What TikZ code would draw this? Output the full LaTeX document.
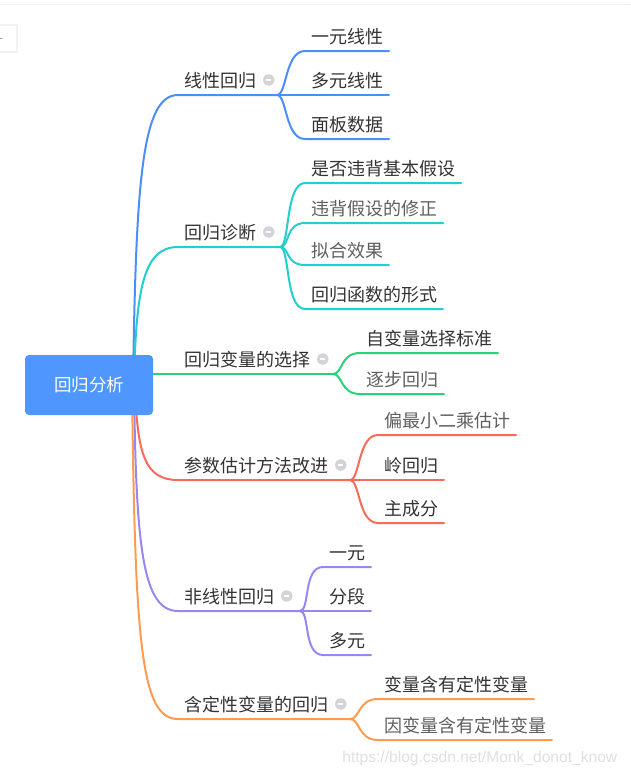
\documentclass[tikz,border=0pt]{standalone}
\usepackage{fontspec}
\newfontfamily\cjk{Noto Sans CJK SC}
\newfontfamily\wmfont{Liberation Sans}
\usetikzlibrary{calc}
\definecolor{rootc}{HTML}{4F97FF}
\definecolor{lnblue}{HTML}{4B8EF7}
\definecolor{lncyan}{HTML}{22CECE}
\definecolor{lngreen}{HTML}{27D37A}
\definecolor{lnred}{HTML}{F86A5A}
\definecolor{lnpurple}{HTML}{9A86F2}
\definecolor{lnorange}{HTML}{FF9B50}
\definecolor{txt}{HTML}{333333}
\definecolor{txtl}{HTML}{5E5E5E}
\definecolor{foldc}{HTML}{D3D3D8}
\tikzset{
  topic/.style={anchor=south west,inner xsep=5pt,inner ysep=3.5pt,text height=14pt,text depth=3pt,
    font=\cjk\fontsize{18}{18}\selectfont,text=txt},
  faint/.style={topic,text=txtl},
  fold/.style={circle,fill=foldc,anchor=west,inner sep=0pt,minimum size=11.5pt,text=white,yshift=2pt},
  link/.style={line width=2pt,line cap=round},
  every scope/.style={link}
}

\begin{document}
\begin{tikzpicture}[x=1pt,y=-1pt]
      \useasboundingbox (0,0) rectangle (630,774);
      \draw[gray!12,line width=1pt] (0,4.5) -- (630,4.5);
      \draw[gray!10,fill=white] (-3,25) rectangle (17,52);
      \draw[gray!80,line width=0.6pt] (0,38) -- (2,38);

      \coordinate (hub) at (133,384);

      \node[topic] (l1) at (178,95) {线性回归};
      \node[fold] (f1) at (l1.east) {\rule[-0.75pt]{5pt}{1.5pt}};
      \coordinate (b1) at (277,95);
      \node[topic] (c11) at (305,51) {一元线性};
      \node[topic] (c12) at (305,95) {多元线性};
      \node[topic] (c13) at (305,139) {面板数据};

      \node[topic] (l2) at (178,247) {回归诊断};
      \node[fold] (f2) at (l2.east) {\rule[-0.75pt]{5pt}{1.5pt}};
      \coordinate (b2) at (280,247);
      \node[topic] (c21) at (305,183) {是否违背基本假设};
      \node[faint] (c22) at (305,223) {违背假设的修正};
      \node[faint] (c23) at (305,265) {拟合效果};
      \node[topic] (c24) at (305,309) {回归函数的形式};

      \node[topic] (l3) at (178,374) {回归变量的选择};
      \node[fold] (f3) at (l3.east) {\rule[-0.75pt]{5pt}{1.5pt}};
      \coordinate (b3) at (333,374);
      \node[topic] (c31) at (360,353) {自变量选择标准};
      \node[faint] (c32) at (360,394) {逐步回归};

      \node[topic] (l4) at (178,480) {参数估计方法改进};
      \node[fold] (f4) at (l4.east) {\rule[-0.75pt]{5pt}{1.5pt}};
      \coordinate (b4) at (350,480);
      \node[faint] (c41) at (378,435) {偏最小二乘估计};
      \node[topic] (c42) at (378,480) {岭回归};
      \node[topic] (c43) at (378,523) {主成分};

      \node[topic] (l5) at (178,611) {非线性回归};
      \node[fold] (f5) at (l5.east) {\rule[-0.75pt]{5pt}{1.5pt}};
      \coordinate (b5) at (300,611);
      \node[topic] (c51) at (323,567) {一元};
      \node[topic] (c52) at (323,611) {分段};
      \node[topic] (c53) at (323,655) {多元};

      \node[topic] (l6) at (178,719) {含定性变量的回归};
      \node[fold] (f6) at (l6.east) {\rule[-0.75pt]{5pt}{1.5pt}};
      \coordinate (b6) at (350,719);
      \node[topic] (c61) at (378,699) {变量含有定性变量};
      \node[faint] (c62) at (378,740) {因变量含有定性变量};

      \begin{scope}[lnblue]
      \draw (hub) .. controls (136,180) and (142,95) .. (l1.south west) -- (b1);
      \draw (b1) .. controls +(10,0) and +(-20,0) .. (c11.south west) -- (c11.south east);
      \draw (b1) -- (c12.south west) -- (c12.south east);
      \draw (b1) .. controls +(10,0) and +(-20,0) .. (c13.south west) -- (c13.south east);
      \end{scope}

      \begin{scope}[lncyan]
      \draw ($(hub)+(1,0)$) .. controls (136,290) and (143,247) .. (l2.south west) -- (b2);
      \draw (b2) .. controls +(10,0) and +(-20,0) .. (c21.south west) -- (c21.south east);
      \draw (b2) .. controls +(10,0) and +(-20,0) .. (c22.south west) -- (c22.south east);
      \draw (b2) .. controls +(10,0) and +(-20,0) .. (c23.south west) -- (c23.south east);
      \draw (b2) .. controls +(10,0) and +(-20,0) .. (c24.south west) -- (c24.south east);
      \end{scope}

      \begin{scope}[lngreen]
      \draw (hub |- l3.south west) -- (l3.south west) -- (b3);
      \draw (b3) .. controls +(10,0) and +(-20,0) .. (c31.south west) -- (c31.south east);
      \draw (b3) .. controls +(10,0) and +(-20,0) .. (c32.south west) -- (c32.south east);
      \end{scope}

      \begin{scope}[lnred]
      \draw ($(hub)+(2,0)$) .. controls (137,455) and (145,480) .. (l4.south west) -- (b4);
      \draw (b4) .. controls +(10,0) and +(-20,0) .. (c41.south west) -- (c41.south east);
      \draw (b4) -- (c42.south west) -- (c42.south east);
      \draw (b4) .. controls +(10,0) and +(-20,0) .. (c43.south west) -- (c43.south east);
      \end{scope}

      \begin{scope}[lnpurple]
      \draw ($(hub)+(1,0)$) .. controls (136,545) and (142,611) .. (l5.south west) -- (b5);
      \draw (b5) .. controls +(10,0) and +(-20,0) .. (c51.south west) -- (c51.south east);
      \draw (b5) -- (c52.south west) -- (c52.south east);
      \draw (b5) .. controls +(10,0) and +(-20,0) .. (c53.south west) -- (c53.south east);
      \end{scope}

      \begin{scope}[lnorange]
      \draw ($(hub)+(-1,0)$) .. controls (135,645) and (141,719) .. (l6.south west) -- (b6);
      \draw (b6) .. controls +(10,0) and +(-20,0) .. (c61.south west) -- (c61.south east);
      \draw (b6) .. controls +(10,0) and +(-20,0) .. (c62.south west) -- (c62.south east);
      \end{scope}

      \node[fill=rootc,rounded corners=4pt,minimum width=128pt,minimum height=60pt,text=white,
        font=\cjk\fontsize{17.5}{18}\selectfont] (root) at (89,385) {回归分析};

      \node[anchor=west,text=gray!25,font=\wmfont\fontsize{15.6}{15.6}\selectfont] (wm) at (338,758) {https://blog.csdn.net/Monk\_donot\_know};
    \end{tikzpicture}
\end{document}
